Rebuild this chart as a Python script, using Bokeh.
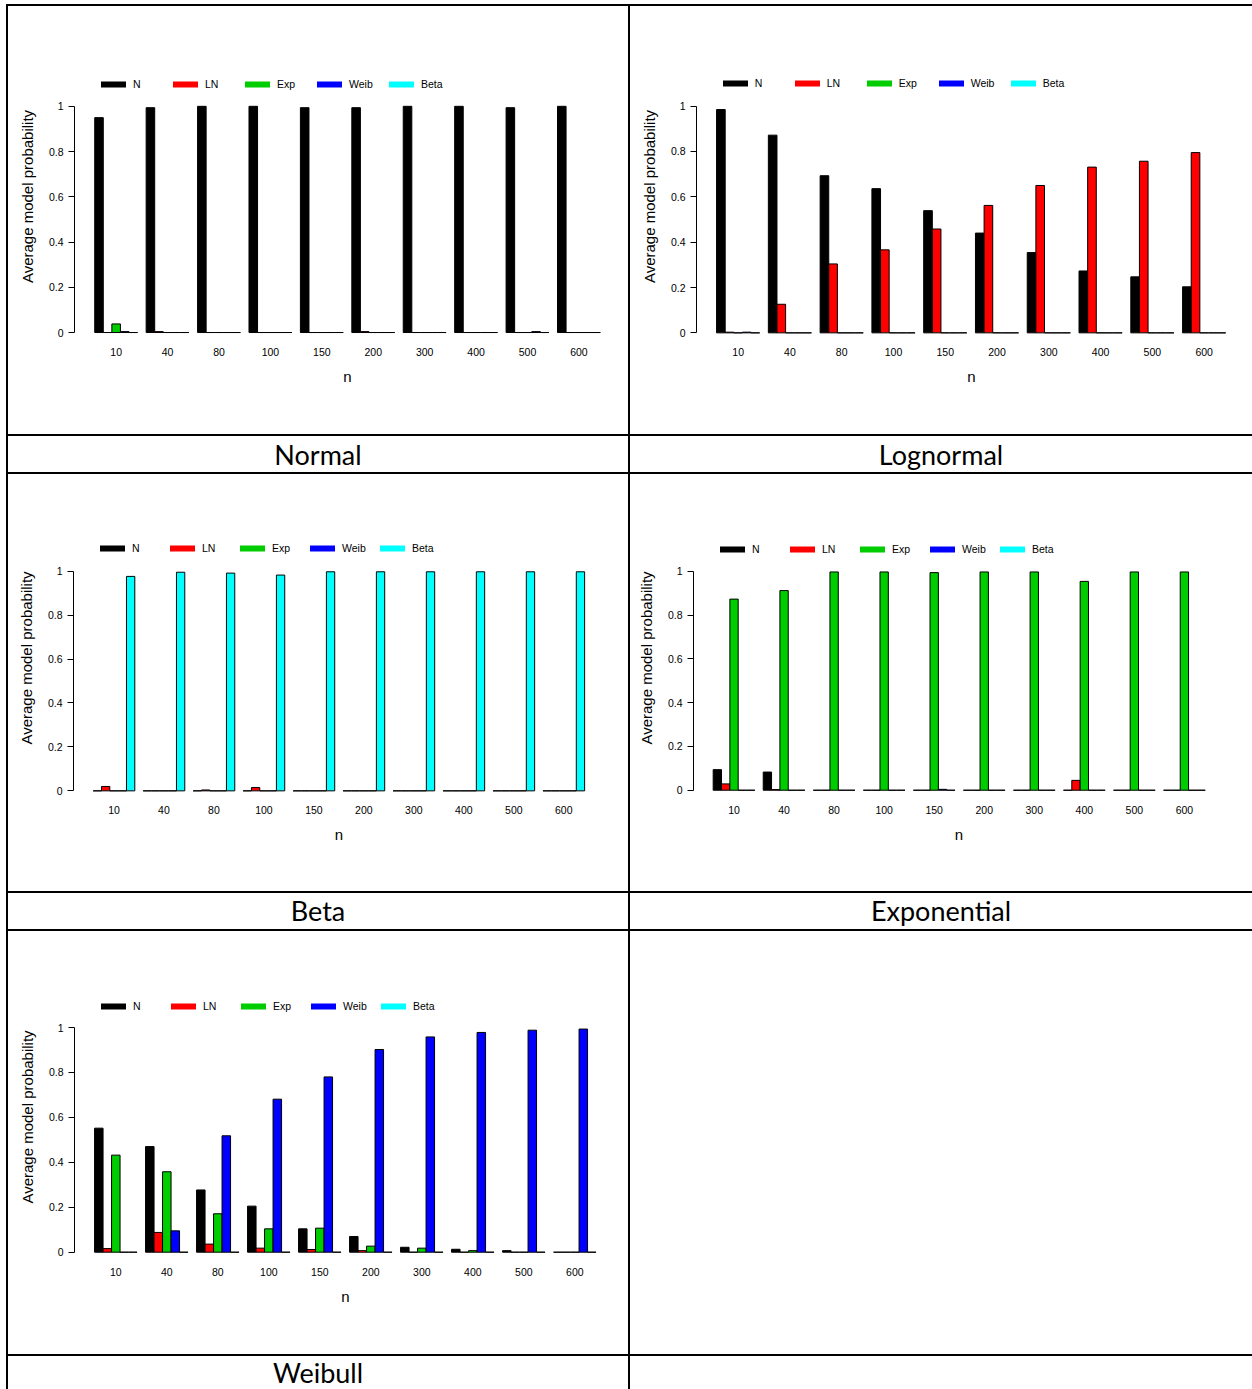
from bokeh.plotting import figure
from bokeh.models import (Range1d, FixedTicker, PrintfTickFormatter, Legend, LegendItem,
                          Spacer, ColumnDataSource, Label)
from bokeh.layouts import row, column
from bokeh.embed import file_html
from bokeh.resources import INLINE

# ---------------- data ----------------
n_labels = ["10", "40", "80", "100", "150", "200", "300", "400", "500", "600"]
model_names = ["N", "LN", "Exp", "Weib", "Beta"]

# true model: Normal
normal_N    = [0.950, 0.994, 1.000, 1.000, 0.994, 0.994, 1.000, 1.000, 0.994, 1.000]
normal_LN   = [0.000, 0.004, 0.000, 0.000, 0.000, 0.004, 0.000, 0.000, 0.000, 0.000]
normal_Exp  = [0.038, 0.000, 0.000, 0.000, 0.000, 0.000, 0.000, 0.000, 0.000, 0.000]
normal_Weib = [0.004, 0.000, 0.000, 0.000, 0.000, 0.000, 0.000, 0.000, 0.004, 0.000]
normal_Beta = [0.000, 0.000, 0.000, 0.000, 0.000, 0.000, 0.000, 0.000, 0.000, 0.000]

# true model: Lognormal
lognormal_N    = [0.985, 0.872, 0.693, 0.636, 0.539, 0.440, 0.354, 0.273, 0.247, 0.203]
lognormal_LN   = [0.003, 0.126, 0.304, 0.366, 0.458, 0.562, 0.650, 0.731, 0.757, 0.795]
lognormal_Exp  = [0.000, 0.000, 0.000, 0.000, 0.000, 0.000, 0.000, 0.000, 0.000, 0.000]
lognormal_Weib = [0.003, 0.000, 0.000, 0.000, 0.000, 0.000, 0.000, 0.000, 0.000, 0.000]
lognormal_Beta = [0.000, 0.000, 0.000, 0.000, 0.000, 0.000, 0.000, 0.000, 0.000, 0.000]

# true model: Beta
beta_N    = [0.000, 0.000, 0.000, 0.000, 0.000, 0.000, 0.000, 0.000, 0.000, 0.000]
beta_LN   = [0.020, 0.000, 0.004, 0.015, 0.000, 0.000, 0.000, 0.000, 0.000, 0.000]
beta_Exp  = [0.000, 0.000, 0.000, 0.000, 0.000, 0.000, 0.000, 0.000, 0.000, 0.000]
beta_Weib = [0.000, 0.000, 0.000, 0.000, 0.000, 0.000, 0.000, 0.000, 0.000, 0.000]
beta_Beta = [0.976, 0.995, 0.991, 0.982, 0.997, 0.997, 0.997, 0.997, 0.997, 0.997]

# true model: Exponential
exp_N    = [0.094, 0.083, 0.000, 0.000, 0.000, 0.000, 0.000, 0.000, 0.000, 0.000]
exp_LN   = [0.029, 0.003, 0.000, 0.000, 0.000, 0.000, 0.000, 0.045, 0.000, 0.000]
exp_Exp  = [0.873, 0.912, 0.997, 0.997, 0.994, 0.997, 0.997, 0.954, 0.997, 0.997]
exp_Weib = [0.000, 0.000, 0.000, 0.000, 0.004, 0.000, 0.000, 0.000, 0.000, 0.000]
exp_Beta = [0.000, 0.000, 0.000, 0.000, 0.000, 0.000, 0.000, 0.000, 0.000, 0.000]

# true model: Weibull
weibull_N    = [0.552, 0.470, 0.277, 0.205, 0.104, 0.070, 0.022, 0.013, 0.007, 0.000]
weibull_LN   = [0.016, 0.088, 0.036, 0.018, 0.012, 0.007, 0.000, 0.000, 0.000, 0.000]
weibull_Exp  = [0.432, 0.358, 0.171, 0.104, 0.107, 0.027, 0.018, 0.007, 0.000, 0.000]
weibull_Weib = [0.000, 0.095, 0.518, 0.681, 0.780, 0.902, 0.958, 0.978, 0.988, 0.993]
weibull_Beta = [0.000, 0.000, 0.000, 0.000, 0.000, 0.000, 0.000, 0.000, 0.000, 0.000]

caption_names = ["Normal", "Lognormal", "Beta", "Exponential", "Weibull"]

# ---------------- style / layout ----------------
model_colors = ["#000000", "#FF0000", "#00CD00", "#0000FF", "#00FFFF"]
FONT = "Liberation Sans"
CAP_FONT = "Lato"
LEFT_W, RIGHT_W = 620, 622
TABLE_W = 2 + LEFT_W + 2 + RIGHT_W

# page-pixel geometry of each chart (box = fig x, y, w, h)
specs = {
    "Normal":      dict(box=(8, 6, LEFT_W, 428), axis_x=74.0, unit=8.57, y0=333.0, y1=106.0, pitch=71.7),
    "Lognormal":   dict(box=(630, 6, RIGHT_W, 428), axis_x=695.7, unit=8.63, y0=332.3, y1=104.0, pitch=72.0),
    "Beta":        dict(box=(8, 474, LEFT_W, 417), axis_x=73.0, unit=8.33, y0=790.3, y1=569.0, pitch=69.5),
    "Exponential": dict(box=(630, 474, RIGHT_W, 417), axis_x=693.0, unit=8.34, y0=790.7, y1=571.0, pitch=69.7),
    "Weibull":     dict(box=(8, 931, LEFT_W, 423), axis_x=74.0, unit=8.50, y0=1251.7, y1=1027.0, pitch=70.5),
}


def make_chart(series, spec):
    fx, fy, W, H = spec["box"]
    ax, unit, y0, y1 = spec["axis_x"], spec["unit"], spec["y0"], spec["y1"]
    ppu = y0 - y1
    mbl = int(round(ax - fx))
    mbt = int(round(y1 - 53 - fy))
    mbb = int(round(fy + H - (y0 + 7)))
    right = min(ax + 63.72 * unit, fx + W - 1)
    mbr = int(round(fx + W - right))
    fl, fr = fx + mbl, fx + W - mbr
    ft, fb = fy + mbt, fy + H - mbb
    x_lo = (fl - ax) / unit - 4.86
    x_hi = (fr - ax) / unit - 4.86
    y_lo = (y0 - fb) / ppu
    y_hi = (y0 - ft) / ppu

    p = figure(width=W, height=H, output_backend="svg", toolbar_location=None,
               x_range=Range1d(x_lo, x_hi), y_range=Range1d(y_lo, y_hi),
               min_border_left=mbl, min_border_right=mbr,
               min_border_top=mbt, min_border_bottom=mbb)
    p.grid.visible = False
    p.outline_line_color = None
    p.background_fill_color = "white"
    p.border_fill_color = "white"

    xs, tops, cols = [], [], []
    for j, vals in enumerate(series):
        for i, v in enumerate(vals):
            xs.append(6 * i + (j - 2))
            tops.append(v)
            cols.append(model_colors[j])
    src = ColumnDataSource(dict(x=xs, top=tops, color=cols))
    p.vbar(x="x", top="top", bottom=0, width=1.0, source=src,
           fill_color="color", line_color="#000000", line_width=1)

    # x axis
    xa = p.xaxis[0]
    xa.ticker = FixedTicker(ticks=[6 * i for i in range(len(n_labels))])
    xa.major_label_overrides = {6 * i: lab for i, lab in enumerate(n_labels)}
    xa.axis_line_color = None
    xa.major_tick_out = 0
    xa.major_tick_in = 0
    xa.minor_tick_out = 0
    xa.minor_tick_in = 0
    xa.major_label_standoff = 8
    xa.major_label_text_font = FONT
    xa.major_label_text_font_size = "10.5px"
    xa.major_label_text_color = "#000000"
    xa.axis_label = "n"
    xa.axis_label_text_font = FONT
    xa.axis_label_text_font_size = "15px"
    xa.axis_label_text_font_style = "normal"
    xa.axis_label_text_color = "#000000"
    xa.axis_label_standoff = 9

    # y axis
    ya = p.yaxis[0]
    ya.bounds = (0, 1)
    ya.ticker = FixedTicker(ticks=[0, 0.2, 0.4, 0.6, 0.8, 1.0])
    ya.formatter = PrintfTickFormatter(format="%g")
    ya.axis_line_color = "#000000"
    ya.axis_line_width = 1
    ya.major_tick_line_color = "#000000"
    ya.major_tick_out = 6
    ya.major_tick_in = 0
    ya.minor_tick_out = 0
    ya.minor_tick_in = 0
    ya.major_label_standoff = 5
    ya.major_label_text_font = FONT
    ya.major_label_text_font_size = "10.5px"
    ya.major_label_text_color = "#000000"
    ya.axis_label = "Average model probability"
    ya.axis_label_text_font = FONT
    ya.axis_label_text_font_size = "15px"
    ya.axis_label_text_font_style = "normal"
    ya.axis_label_text_color = "#000000"
    ya.axis_label_standoff = 10

    # legend with thick line samples (sample renderers lie outside the visible range)
    items = []
    for name, c in zip(model_names, model_colors):
        r = p.line(x=[x_lo - 20, x_lo - 19], y=[-5, -5], line_color=c, line_width=6,
                   line_cap="round")
        items.append(LegendItem(label=name, renderers=[r]))
    leg_cy = y1 - 20.7
    legend = Legend(items=items, orientation="horizontal",
                    location=(ax + 27 - fl, fb - (leg_cy + 6)),
                    padding=0, margin=0, spacing=0,
                    glyph_width=25, glyph_height=12,
                    label_standoff=7, label_height=12,
                    label_width=int(round(spec["pitch"] - 32)),
                    border_line_color=None, background_fill_alpha=0,
                    label_text_font=FONT, label_text_font_size="10.5px",
                    label_text_color="#000000")
    p.add_layout(legend)
    return p


def make_caption(text, W, H, cx, cy_from_top):
    p = figure(width=W, height=H, output_backend="svg", toolbar_location=None,
               x_range=Range1d(0, W), y_range=Range1d(0, H),
               x_axis_type=None, y_axis_type=None,
               min_border=0, min_border_left=0, min_border_right=0,
               min_border_top=0, min_border_bottom=0)
    p.grid.visible = False
    p.outline_line_color = None
    p.add_layout(Label(x=cx, y=H - cy_from_top, text=text, text_font=CAP_FONT,
                       text_font_size="27px", text_align="center",
                       text_baseline="middle", text_color="#000000"))
    return p


def vline(h):
    return Spacer(width=2, height=h, margin=0, styles={"background-color": "#000000"})


def hline():
    return Spacer(width=TABLE_W, height=2, margin=0, styles={"background-color": "#000000"})


series_by_panel = {
    "Normal": [normal_N, normal_LN, normal_Exp, normal_Weib, normal_Beta],
    "Lognormal": [lognormal_N, lognormal_LN, lognormal_Exp, lognormal_Weib, lognormal_Beta],
    "Beta": [beta_N, beta_LN, beta_Exp, beta_Weib, beta_Beta],
    "Exponential": [exp_N, exp_LN, exp_Exp, exp_Weib, exp_Beta],
    "Weibull": [weibull_N, weibull_LN, weibull_Exp, weibull_Weib, weibull_Beta],
}
charts = {k: make_chart(series_by_panel[k], specs[k]) for k in caption_names}

table = column(
    Spacer(width=TABLE_W, height=4, margin=0),
    hline(),
    row(vline(428), charts["Normal"], vline(428), charts["Lognormal"]),
    hline(),
    row(vline(36), make_caption(caption_names[0], LEFT_W, 36, 309.5, 18), vline(36),
        make_caption(caption_names[1], RIGHT_W, 36, 310.5, 18)),
    hline(),
    row(vline(417), charts["Beta"], vline(417), charts["Exponential"]),
    hline(),
    row(vline(36), make_caption(caption_names[2], LEFT_W, 36, 309.5, 16.5), vline(36),
        make_caption(caption_names[3], RIGHT_W, 36, 310.5, 16.5)),
    hline(),
    row(vline(423), charts["Weibull"], vline(423), Spacer(width=RIGHT_W, height=423, margin=0)),
    hline(),
    row(vline(33), make_caption(caption_names[4], LEFT_W, 33, 309.5, 15.5), vline(33),
        Spacer(width=RIGHT_W, height=33, margin=0)),
    spacing=0,
)
layout = row(Spacer(width=6, height=1389, margin=0), table, spacing=0)

open("out.html", "w").write(file_html(layout, INLINE))
